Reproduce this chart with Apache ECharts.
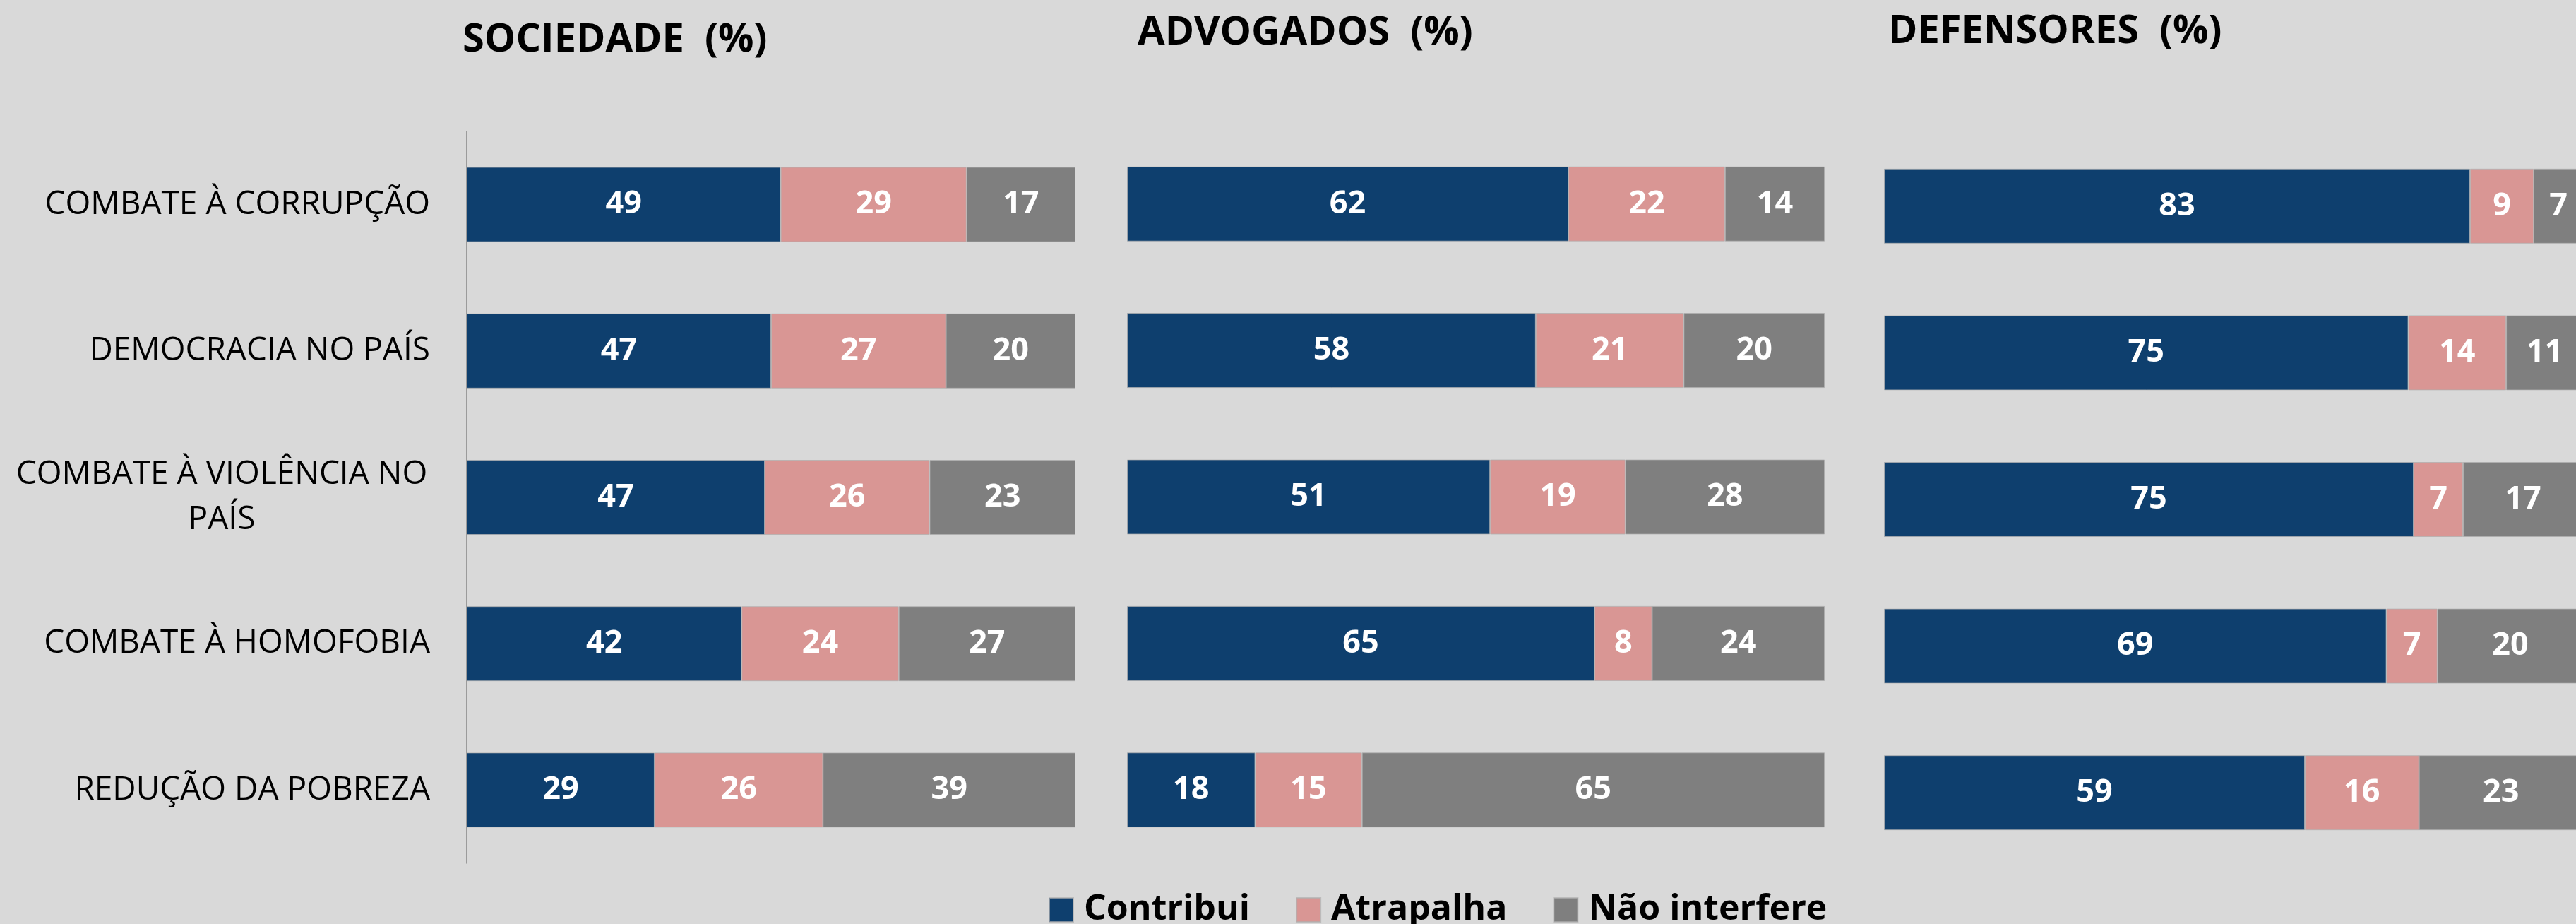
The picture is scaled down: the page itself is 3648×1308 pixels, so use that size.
<!DOCTYPE html>
<html>
<head>
<meta charset="utf-8">
<script src="https://cdn.jsdelivr.net/npm/echarts@6/dist/echarts.min.js"></script>
<style>
  html, body { margin: 0; padding: 0; background: #d9d9d9; }
  #chart { width: 3648px; height: 1308px; }
</style>
</head>
<body>
<div id="chart"></div>
<script>
// categorias (de cima para baixo)
const categories = [
  'COMBATE À CORRUPÇÃO',
  'DEMOCRACIA NO PAÍS',
  'COMBATE À VIOLÊNCIA NO\nPAÍS',
  'COMBATE À HOMOFOBIA',
  'REDUÇÃO DA POBREZA'
]
const seriesNames = ['Contribui', 'Atrapalha', 'Não interfere']
const panelTitles = ['SOCIEDADE  (%)', 'ADVOGADOS  (%)', 'DEFENSORES  (%)']

const sociedadeContribui = [49, 47, 47, 42, 29]
const sociedadeAtrapalha = [29, 27, 26, 24, 26]
const sociedadeNaoInterfere = [17, 20, 23, 27, 39]

const advogadosContribui = [62, 58, 51, 65, 18]
const advogadosAtrapalha = [22, 21, 19, 8, 15]
const advogadosNaoInterfere = [14, 20, 28, 24, 65]

const defensoresContribui = [83, 75, 75, 69, 59]
const defensoresAtrapalha = [9, 14, 7, 7, 16]
const defensoresNaoInterfere = [7, 11, 17, 20, 23]

const colors = ['#0e3f6e', '#d99694', '#7f7f7f']
const font = 'Open Sans'

const panels = [
  [sociedadeContribui, sociedadeAtrapalha, sociedadeNaoInterfere],
  [advogadosContribui, advogadosAtrapalha, advogadosNaoInterfere],
  [defensoresContribui, defensoresAtrapalha, defensoresNaoInterfere]
]

// o painel da direita sai um pouco do quadro, como no original
const grids = [
  { left: 661, top: 186, width: 862, height: 1036, outerBoundsMode: 'none' },
  { left: 1596, top: 185, width: 988, height: 1037, outerBoundsMode: 'none' },
  { left: 2668, top: 188, width: 990, height: 1038, outerBoundsMode: 'none' }
]

const titleStyle = { fontFamily: font, fontWeight: 'bold', fontSize: 56, color: '#000' }
const titles = [
  { text: panelTitles[0], left: 655, top: 29, padding: 0, textStyle: titleStyle },
  { text: panelTitles[1], left: 1611, top: 19, padding: 0, textStyle: titleStyle },
  { text: panelTitles[2], left: 2674, top: 17, padding: 0, textStyle: titleStyle }
]

const xAxes = grids.map((g, i) => ({
  type: 'value', gridIndex: i, min: 0, max: 100, show: false
}))

const yAxes = grids.map((g, i) => ({
  type: 'category',
  gridIndex: i,
  data: categories,
  inverse: true,
  axisTick: { show: false },
  splitLine: { show: false },
  axisLine: { show: i === 0, lineStyle: { color: '#868686', width: 1.5 } },
  axisLabel: {
    show: i === 0,
    margin: 52,
    color: '#000',
    fontFamily: font,
    fontSize: 46,
    formatter: function (value) {
      if (value.indexOf('\n') < 0) return value
      // linhas centradas entre si
      return value.split('\n').map(s => '{c|' + s + '}').join('\n')
    },
    rich: {
      c: { width: 590, align: 'center', fontFamily: font, fontSize: 46, color: '#000', lineHeight: 64 }
    }
  }
}))

const series = []
panels.forEach((panel, p) => {
  panel.forEach((values, s) => {
    series.push({
      name: seriesNames[s],
      type: 'bar',
      stack: 'panel' + p,
      xAxisIndex: p,
      yAxisIndex: p,
      barWidth: 106,
      itemStyle: { color: colors[s], borderColor: 'rgba(175,175,175,0.7)', borderWidth: 1 },
      label: {
        show: true,
        position: 'inside',
        color: '#fff',
        fontFamily: font,
        fontWeight: 'bold',
        fontSize: 45,
        formatter: item => item.data.raw
      },
      // barras a 100%: cada linha é normalizada pela soma
      data: values.map((v, k) => {
        const total = panel[0][k] + panel[1][k] + panel[2][k]
        return { value: v / total * 100, raw: v }
      })
    })
  })
})

const myChart = echarts.init(document.getElementById('chart'))
myChart.setOption({
  backgroundColor: '#d9d9d9',
  animation: false,
  title: titles,
  legend: {
    data: seriesNames,
    left: 1480,
    top: 1258,
    icon: 'rect',
    itemWidth: 34,
    itemHeight: 34,
    itemGap: 65,
    textStyle: { fontFamily: font, fontWeight: 'bold', fontSize: 50, color: '#000', padding: [0, 0, 0, 10] }
  },
  grid: grids,
  xAxis: xAxes,
  yAxis: yAxes,
  series: series
})
</script>
</body>
</html>
